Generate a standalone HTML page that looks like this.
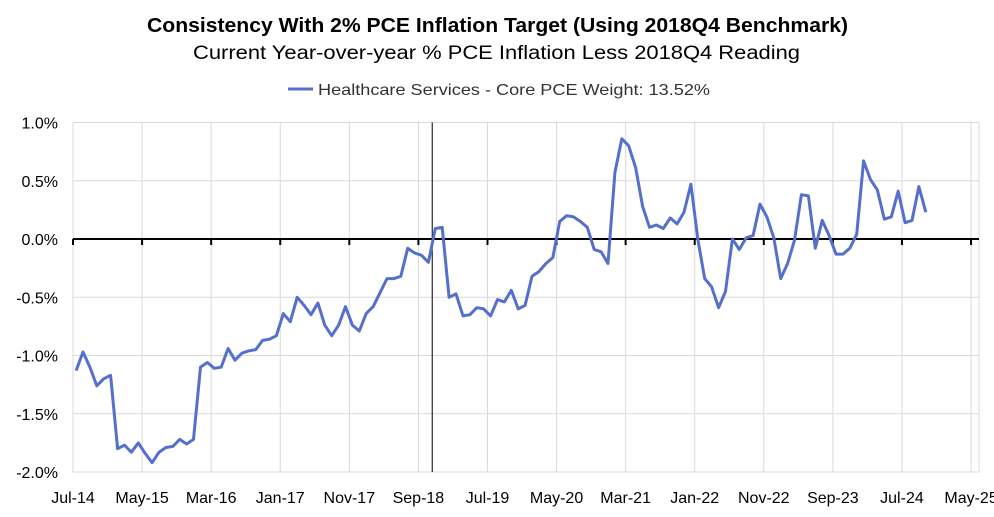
<!DOCTYPE html>
<html><head><meta charset="utf-8"><style>
body{margin:0;background:#fff;}
svg{display:block;font-family:"Liberation Sans",sans-serif;}
</style></head><body>
<svg id="chart" width="994" height="517" viewBox="0 0 994 517">
<text x="147" y="32" textLength="701" lengthAdjust="spacingAndGlyphs" font-size="20" font-weight="bold" fill="#000">Consistency With 2% PCE Inflation Target (Using 2018Q4 Benchmark)</text>
<text x="193" y="59" textLength="607" lengthAdjust="spacingAndGlyphs" font-size="19" fill="#000">Current Year-over-year % PCE Inflation Less 2018Q4 Reading</text>
<g>
<line x1="288" y1="89" x2="313" y2="89" stroke="#5470cc" stroke-width="3"/>
<text x="318" y="95" textLength="392" lengthAdjust="spacingAndGlyphs" font-size="16" fill="#333">Healthcare Services - Core PCE Weight: 13.52%</text>
</g>
<g id="grid"></g><g id="axes"></g><g id="series"></g>
</svg>
<script>
const yTickValues=[1.0,0.5,0.0,-0.5,-1.0,-1.5,-2.0];
const yTickLabels=["1.0%","0.5%","0.0%","-0.5%","-1.0%","-1.5%","-2.0%"];
const xTickLabels=["Jul-14","May-15","Mar-16","Jan-17","Nov-17","Sep-18","Jul-19","May-20","Mar-21","Jan-22","Nov-22","Sep-23","Jul-24","May-25"];
const benchmarkMonth=52;
const values=[-1.13,-0.97,-1.10,-1.26,-1.20,-1.17,-1.80,-1.77,-1.83,-1.75,-1.84,-1.92,-1.83,-1.79,-1.78,-1.72,-1.76,-1.72,-1.10,-1.06,-1.11,-1.10,-0.94,-1.04,-0.98,-0.96,-0.95,-0.87,
-0.86,-0.83,-0.64,-0.71,-0.50,-0.57,-0.65,-0.55,-0.74,-0.83,-0.74,-0.58,-0.74,-0.79,-0.64,-0.58,-0.46,-0.34,-0.34,-0.32,-0.08,-0.12,-0.14,-0.20,0.09,0.10,-0.50,-0.47,-0.66,-0.65,-0.59,-0.60,-0.66,-0.52,-0.54,-0.44,-0.60,-0.57,-0.32,-0.28,-0.21,-0.16,0.15,0.20,0.19,0.15,0.10,-0.09,-0.11,-0.21,
0.57,0.86,0.80,0.61,0.28,0.10,0.12,0.09,0.18,0.13,0.23,0.47,0.00,-0.34,-0.41,-0.59,-0.45,0.00,-0.09,0.01,0.03,0.30,0.19,0.01,-0.34,-0.21,-0.01,0.38,0.37,-0.08,0.16,0.03,-0.13,-0.13,-0.08,0.04,0.67,0.51,0.42,0.17,0.19,0.41,0.14,0.16,0.45,0.23];
const NS="http://www.w3.org/2000/svg";
const L=73,R=979,PX_PER_MONTH=6.908;
const x=m=>L+m*PX_PER_MONTH;
const y=v=>239-v*116.5;
function mk(tag,attrs,parent){const e=document.createElementNS(NS,tag);for(const k in attrs)e.setAttribute(k,attrs[k]);parent.appendChild(e);return e;}
const grid=document.getElementById('grid'),axes=document.getElementById('axes'),series=document.getElementById('series');
yTickValues.forEach((v,i)=>{
 if(v!==0){const g=mk('line',{x1:L,x2:R,y1:y(v),y2:y(v),stroke:'#d9d9d9','stroke-width':1},grid);
 
 }
 const t=mk('text',{x:58,y:y(v)+6,'text-anchor':'end','font-size':16,fill:'#000'},axes);
 t.textContent=yTickLabels[i];
 
 
});
xTickLabels.forEach((lab,k)=>{
 const xx=x(k*10);
 const g=mk('line',{x1:xx,x2:xx,y1:y(1),y2:y(-2),stroke:'#d9d9d9','stroke-width':1},grid);
 
 
 const tk=mk('line',{x1:xx,x2:xx,y1:y(0),y2:y(0)+6,stroke:'#000','stroke-width':2},axes);
 
 
 const t=mk('text',{x:xx,y:503,'text-anchor':'middle','font-size':16,fill:'#000'},axes);
 t.textContent=lab;
 
 
});
const rb=mk('line',{x1:R,x2:R,y1:y(1),y2:y(-2),stroke:'#d9d9d9','stroke-width':1},grid);


const za=mk('line',{x1:L,x2:R,y1:y(0),y2:y(0),stroke:'#000','stroke-width':2},axes);


const bl=mk('line',{x1:x(benchmarkMonth),x2:x(benchmarkMonth),y1:y(1),y2:y(-2),stroke:'#000','stroke-width':1},axes);


const d=values.map((v,i)=>(i?'L':'M')+x(i+0.45).toFixed(1)+','+y(v).toFixed(1)).join('');
const p=mk('path',{d:d,fill:'none',stroke:'#5470cc','stroke-width':3,'stroke-linejoin':'round'},series);


</script>
</body></html>
